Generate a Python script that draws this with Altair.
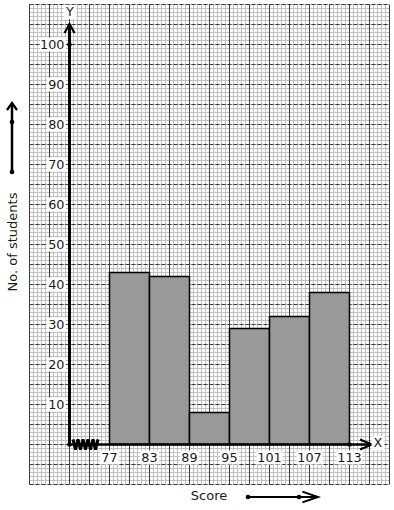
import altair as alt
import pandas as pd

# ---- data ----
class_lower = [77, 83, 89, 95, 101, 107]
class_upper = [83, 89, 95, 101, 107, 113]
students = [43, 42, 8, 29, 32, 38]
x_tick_values = [77, 83, 89, 95, 101, 107, 113]
y_tick_values = [10, 20, 30, 40, 50, 60, 70, 80, 90, 100]
x_title = "Score"
y_title = "No. of students"

# ---- geometry (scale domains chosen so the graph paper lines fall on pixels) ----
X_DOM = [60.575, 119.675]   # 0.15 score units per pixel
Y_DOM = [-16.375, 111.125]  # 0.25 students per pixel
GRID_X0, GRID_X1 = 65, 119
GRID_Y0, GRID_Y1 = -10, 110
AXIS_X = 71                 # broken axis: vertical axis drawn here
FONT = "DejaVu Sans"
TXT = "#1a1a1a"

xs = alt.Scale(domain=X_DOM, nice=False, zero=False)
ys = alt.Scale(domain=Y_DOM, nice=False, zero=False)


def X(f):
    return alt.X(f, type="quantitative", scale=xs, axis=None)


def Y(f):
    return alt.Y(f, type="quantitative", scale=ys, axis=None)


def px_x(p):
    return X_DOM[0] + 0.15 * p


def px_y(p):
    return Y_DOM[1] - 0.25 * p


# graph paper
minor_v = pd.DataFrame({"x": [GRID_X0 + 0.6 * k for k in range(91)], "y0": GRID_Y0, "y1": GRID_Y1})
minor_h = pd.DataFrame({"y": [GRID_Y0 + k for k in range(121)], "x0": GRID_X0, "x1": GRID_X1})
major_v = pd.DataFrame({"x": [GRID_X0 + 3 * k for k in range(19)], "y0": GRID_Y0, "y1": GRID_Y1})
major_h = pd.DataFrame({"y": [GRID_Y0 + 5 * k for k in range(25)], "x0": GRID_X0, "x1": GRID_X1})

l_minor_v = alt.Chart(minor_v).mark_rule(color="#c0c0c0", strokeWidth=1).encode(
    x=X("x"), y=Y("y0"), y2="y1")
l_minor_h = alt.Chart(minor_h).mark_rule(color="#c0c0c0", strokeWidth=1).encode(
    y=Y("y"), x=X("x0"), x2="x1")
l_major_v = alt.Chart(major_v).mark_rule(color="#3c3c3c", strokeWidth=1).encode(
    x=X("x"), y=Y("y0"), y2="y1")
l_major_h = alt.Chart(major_h).mark_rule(color="#3c3c3c", strokeWidth=1, strokeDash=[4, 2]).encode(
    y=Y("y"), x=X("x0"), x2="x1")

# histogram bars
bars_df = pd.DataFrame({"lo": class_lower, "hi": class_upper, "n": students, "base": 0})
l_bars = alt.Chart(bars_df).mark_rect(fill="#999999", stroke="black", strokeWidth=1.5).encode(
    x=X("lo"), x2="hi", y=Y("base"), y2="n")

# axes lines
yaxis_df = pd.DataFrame({"x": [AXIS_X], "y0": [0], "y1": [px_y(24)]})
xaxis_df = pd.DataFrame({"y": [0], "x0": [AXIS_X], "x1": [px_x(372)]})
l_yaxis = alt.Chart(yaxis_df).mark_rule(color="black", strokeWidth=3).encode(
    x=X("x"), y=Y("y0"), y2="y1")
l_xaxis = alt.Chart(xaxis_df).mark_rule(color="black", strokeWidth=2.5).encode(
    y=Y("y"), x=X("x0"), x2="x1")

# zig-zag break on x axis
zz_df = pd.DataFrame({
    "x": [px_x(73 + 2.5 * k) for k in range(11)],
    "y": [(1.3 if k % 2 == 0 else -1.3) for k in range(11)],
    "o": list(range(11)),
})
l_zz = alt.Chart(zz_df).mark_line(color="black", strokeWidth=3).encode(
    x=X("x"), y=Y("y"), order="o")

# dots on axes
dots_df = pd.DataFrame({"x": [AXIS_X, AXIS_X, 113], "y": [0, 100, 0]})
l_dots = alt.Chart(dots_df).mark_point(filled=True, color="black", size=22, opacity=1).encode(
    x=X("x"), y=Y("y"))

# arrow heads
up_df = pd.DataFrame({"x": [AXIS_X], "y": [px_y(24)]})
l_up = alt.Chart(up_df).mark_point(shape="M-1,1.8L0,0L1,1.8", size=100, filled=False,
                                   color="black", strokeWidth=2.2, opacity=1).encode(x=X("x"), y=Y("y"))
right_df = pd.DataFrame({"x": [px_x(372)], "y": [0]})
l_right = alt.Chart(right_df).mark_point(shape="M-2,-0.85L0,0L-2,0.85", size=144, filled=False,
                                         color="black", strokeWidth=2.2, opacity=1).encode(x=X("x"), y=Y("y"))

# side arrow (y direction) and bottom arrow (x direction)
l_side_line = alt.Chart(pd.DataFrame({"x": [px_x(12)], "y0": [px_y(172)], "y1": [px_y(104)]})).mark_rule(
    color="black", strokeWidth=2.5).encode(x=X("x"), y=Y("y0"), y2="y1")
l_side_dots = alt.Chart(pd.DataFrame({"x": [px_x(12)] * 2, "y": [px_y(172), px_y(122)]})).mark_point(
    filled=True, color="black", size=22, opacity=1).encode(x=X("x"), y=Y("y"))
l_side_head = alt.Chart(pd.DataFrame({"x": [px_x(12)], "y": [px_y(103)]})).mark_point(
    shape="M-1,1.4L0,0L1,1.4", size=100, filled=False, color="black", strokeWidth=2.2, opacity=1).encode(
    x=X("x"), y=Y("y"))
l_bot_line = alt.Chart(pd.DataFrame({"y": [px_y(497)], "x0": [px_x(248)], "x1": [px_x(318)]})).mark_rule(
    color="black", strokeWidth=2).encode(y=Y("y"), x=X("x0"), x2="x1")
l_bot_dots = alt.Chart(pd.DataFrame({"y": [px_y(497)] * 2, "x": [px_x(248), px_x(299)]})).mark_point(
    filled=True, color="black", size=22, opacity=1).encode(x=X("x"), y=Y("y"))
l_bot_head = alt.Chart(pd.DataFrame({"x": [px_x(318)], "y": [px_y(497)]})).mark_point(
    shape="M-2.6,-0.9L0,0L-2.6,0.9", size=144, filled=False, color="black", strokeWidth=2, opacity=1).encode(
    x=X("x"), y=Y("y"))

# tick labels with white boxes
ylab_df = pd.DataFrame({"x": AXIS_X, "y": y_tick_values, "label": [str(v) for v in y_tick_values],
                        "wide": [len(str(v)) > 2 for v in y_tick_values]})
BOX2 = "M-1,-0.74H1V0.74H-1Z"
BOX3 = "M-1,-0.54H1V0.54H-1Z"
l_ybox2 = alt.Chart(ylab_df).transform_filter("!datum.wide").mark_point(
    shape=BOX2, size=361, filled=True, color="white", opacity=1, strokeWidth=0, xOffset=-13).encode(
    x=X("x"), y=Y("y"))
l_ybox3 = alt.Chart(ylab_df).transform_filter("datum.wide").mark_point(
    shape=BOX3, size=676, filled=True, color="white", opacity=1, strokeWidth=0, xOffset=-16.5).encode(
    x=X("x"), y=Y("y"))
l_ylab = alt.Chart(ylab_df).mark_text(align="right", baseline="middle", dx=-5, font=FONT, fontSize=12.8,
                                      color=TXT).encode(x=X("x"), y=Y("y"), text="label:N")

xlab_df = pd.DataFrame({"x": x_tick_values, "y": 0, "label": [str(v) for v in x_tick_values],
                        "wide": [len(str(v)) > 2 for v in x_tick_values]})
l_xbox2 = alt.Chart(xlab_df).transform_filter("!datum.wide").mark_point(
    shape=BOX2, size=361, filled=True, color="white", opacity=1, strokeWidth=0, yOffset=13).encode(
    x=X("x"), y=Y("y"))
l_xbox3 = alt.Chart(xlab_df).transform_filter("datum.wide").mark_point(
    shape=BOX3, size=676, filled=True, color="white", opacity=1, strokeWidth=0, yOffset=13).encode(
    x=X("x"), y=Y("y"))
l_xlab = alt.Chart(xlab_df).mark_text(align="center", baseline="middle", dy=13, font=FONT, fontSize=12.8,
                                      color=TXT).encode(x=X("x"), y=Y("y"), text="label:N")

# axis letters X / Y
letters_df = pd.DataFrame({"x": [px_x(378), px_x(70)], "y": [px_y(443), px_y(12)], "t": ["X", "Y"]})
l_letbox = alt.Chart(letters_df).mark_point(shape="M-1,-1.1H1V1.1H-1Z", size=169, filled=True, color="white",
                                            opacity=1, strokeWidth=0).encode(x=X("x"), y=Y("y"))
l_let = alt.Chart(letters_df).mark_text(align="center", baseline="middle", font=FONT, fontSize=12.8,
                                        color=TXT).encode(x=X("x"), y=Y("y"), text="t:N")

# titles
l_xtitle = alt.Chart(pd.DataFrame({"x": [px_x(209)], "y": [px_y(496)], "t": [x_title]})).mark_text(
    align="center", baseline="middle", font=FONT, fontSize=13, color=TXT).encode(
    x=X("x"), y=Y("y"), text="t:N")
l_ytitle = alt.Chart(pd.DataFrame({"x": [px_x(13)], "y": [px_y(242)], "t": [y_title]})).mark_text(
    align="center", baseline="middle", angle=270, font=FONT, fontSize=13, color=TXT).encode(
    x=X("x"), y=Y("y"), text="t:N")

chart = alt.layer(
    l_minor_v, l_minor_h, l_major_v, l_major_h,
    l_bars,
    l_xaxis, l_yaxis, l_zz, l_dots, l_up, l_right,
    l_side_line, l_side_dots, l_side_head, l_bot_line, l_bot_dots, l_bot_head,
    l_ybox2, l_ybox3, l_ylab, l_xbox2, l_xbox3, l_xlab, l_letbox, l_let,
    l_xtitle, l_ytitle,
).properties(
    width=394, height=510,
    autosize=alt.AutoSizeParams(type="none"),
    padding=0,
    background="white",
).configure_view(stroke=None)

chart.save("out.html", embed_options={"renderer": "svg", "actions": False})
